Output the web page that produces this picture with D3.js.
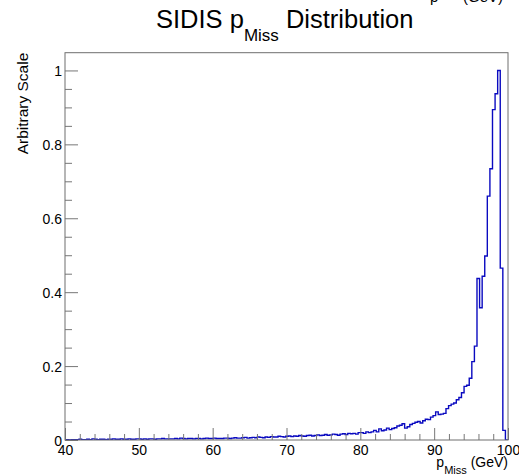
<!DOCTYPE html>
<html>
<head>
<meta charset="utf-8">
<script src="https://cdn.jsdelivr.net/npm/d3@7"></script>
<style>
  html, body { margin: 0; padding: 0; background: #fff; }
  svg { display: block; font-family: "Liberation Sans", Arial, Helvetica, sans-serif; }
</style>
</head>
<body>
<svg id="chart" width="519" height="476"></svg>
<script>
// ---- data ----
const xRange = [40, 100];
const binWidth = 0.35;           // GeV, bins counted back from 100
const xMajorTicks = [40, 50, 60, 70, 80, 90, 100];
const yMajorTicks = [0, 0.2, 0.4, 0.6, 0.8, 1];
const yTickLabels = ["0", "0.2", "0.4", "0.6", "0.8", "1"];
// bin contents, left to right (last bin ends at 100 GeV)
const binValues = [
  0.001,0.001,0.0,0.001,0.001,0.001,0.002,0.001,0.001,0.002,0.001,
  0.003,0.002,0.001,0.002,0.002,0.001,0.002,0.002,0.003,0.002,
  0.002,0.003,0.002,0.002,0.003,0.002,0.002,0.003,0.003,0.002,
  0.003,0.002,0.003,0.003,0.002,0.003,0.003,0.004,0.003,0.003,
  0.003,0.003,0.004,0.003,0.005,0.004,0.003,0.004,0.004,0.003,
  0.004,0.004,0.003,0.004,0.005,0.004,0.004,0.005,0.004,0.004,
  0.004,0.005,0.005,0.004,0.005,0.006,0.005,
  0.005,0.006,0.007,0.005,0.006,0.007,0.006,0.008,0.007,0.006,
  0.008,0.007,0.009,0.008,0.008,0.010,0.009,0.008,0.010,0.011,
  0.009,0.011,0.010,0.012,0.011,0.010,0.012,0.013,0.011,0.012,
  0.014,0.012,0.013,0.015,0.013,0.014,0.016,0.015,0.013,0.016,0.017,0.015,0.018,0.017,
  0.018,0.016,0.020,0.020,0.018,0.022,0.020,0.022,0.026,0.022,
  0.030,0.025,0.027,0.032,0.028,0.031,0.033,0.038,0.040,0.044,
  0.032,0.036,0.042,0.045,0.048,0.050,0.046,0.052,0.056,0.055,
  0.062,0.066,0.076,0.069,0.070,0.072,0.085,0.093,0.097,0.100,
  0.109,0.115,0.128,0.145,0.148,0.167,0.212,0.254,0.437,0.358,
  0.443,0.498,0.660,0.734,0.894,0.937,1.000,0.465,0.026,0.0
];

// ---- layout ----
const svg = d3.select("#chart");
const frame = { left: 65, right: 508, top: 52.7, bottom: 440 };
const x = d3.scaleLinear().domain(xRange).range([frame.left, frame.right]);
const y = d3.scaleLinear().domain([0, 1.048]).range([frame.bottom, frame.top]);

const nBins = binValues.length;
const bins = binValues.map((v, i) => ({ x0: xRange[1] - binWidth * (nBins - i), v }));

// clip
svg.append("defs").append("clipPath").attr("id", "clip")
  .append("rect")
  .attr("x", frame.left).attr("y", frame.top - 2)
  .attr("width", frame.right - frame.left).attr("height", frame.bottom - frame.top + 2);

// histogram
const pts = bins.map(b => [b.x0, b.v]);
pts.push([xRange[1], 0]);
const line = d3.line().x(d => x(d[0])).y(d => y(d[1])).curve(d3.curveStepAfter);
svg.append("path")
  .attr("clip-path", "url(#clip)")
  .attr("d", line(pts))
  .attr("fill", "none")
  .attr("stroke", "#0a0ac0")
  .attr("stroke-width", 1.4);

// axes
const axisColor = "#777";
const xMinor = d3.range(40, 100.001, 2).filter(v => v % 10 !== 0);
const yMinor = d3.range(0, 1.0001, 0.05).map(v => +v.toFixed(2)).filter(v => Math.round(v * 100) % 20 !== 0);

const gx = svg.append("g").attr("transform", `translate(0,${frame.bottom})`)
  .call(d3.axisBottom(x).tickValues(xMajorTicks).tickSize(-12).tickPadding(5).tickFormat(d3.format("d")));
const gxm = svg.append("g").attr("transform", `translate(0,${frame.bottom})`)
  .call(d3.axisBottom(x).tickValues(xMinor).tickSize(-6).tickFormat(""));
const gy = svg.append("g").attr("transform", `translate(${frame.left},0)`)
  .call(d3.axisLeft(y).tickValues(yMajorTicks).tickSize(-13).tickPadding(3)
        .tickFormat((d, i) => yTickLabels[i]));
const gym = svg.append("g").attr("transform", `translate(${frame.left},0)`)
  .call(d3.axisLeft(y).tickValues(yMinor).tickSize(-7).tickFormat(""));

[gx, gxm, gy, gym].forEach(g => {
  g.select(".domain").remove();
  g.selectAll(".tick line").attr("stroke", axisColor).attr("stroke-width", 1);
  g.selectAll("text").attr("fill", "#000").attr("font-size", 14)
    .attr("font-family", "\"Liberation Sans\", Arial, sans-serif");
});
gy.selectAll("text").attr("dy", "0.36em");

// frame
svg.append("rect")
  .attr("x", frame.left).attr("y", frame.top)
  .attr("width", frame.right - frame.left).attr("height", frame.bottom - frame.top)
  .attr("fill", "none").attr("stroke", "#6e6e6e").attr("stroke-width", 1);

// title
const title = svg.append("text").attr("x", 156).attr("y", 28)
  .attr("font-size", 25.5).attr("fill", "#000");
title.append("tspan").text("SIDIS p");
title.append("tspan").attr("font-size", 17).attr("dy", 13).text("Miss");
title.append("tspan").attr("dy", -13).text(" Distribution");

// cut-off text at top right
svg.append("text").attr("x", 430).attr("y", 2)
  .attr("font-size", 15).attr("fill", "#000").text("p");
svg.append("text").attr("x", 446).attr("y", -12)
  .attr("font-size", 11).attr("fill", "#000").text("Miss");
svg.append("text").attr("x", 463).attr("y", 2)
  .attr("font-size", 15).attr("fill", "#000").text("(GeV)");

// x title
const xt = svg.append("text").attr("x", 508).attr("y", 467)
  .attr("text-anchor", "end").attr("font-size", 14).attr("fill", "#000");
xt.append("tspan").text("p");
xt.append("tspan").attr("font-size", 11).attr("dy", 7).text("Miss");
xt.append("tspan").attr("dy", -7).text(" (GeV)");

// y title
svg.append("text")
  .attr("transform", `translate(28,${frame.top}) rotate(-90)`)
  .attr("text-anchor", "end").attr("font-size", 15.5).attr("fill", "#000")
  .text("Arbitrary Scale");
</script>
</body>
</html>
